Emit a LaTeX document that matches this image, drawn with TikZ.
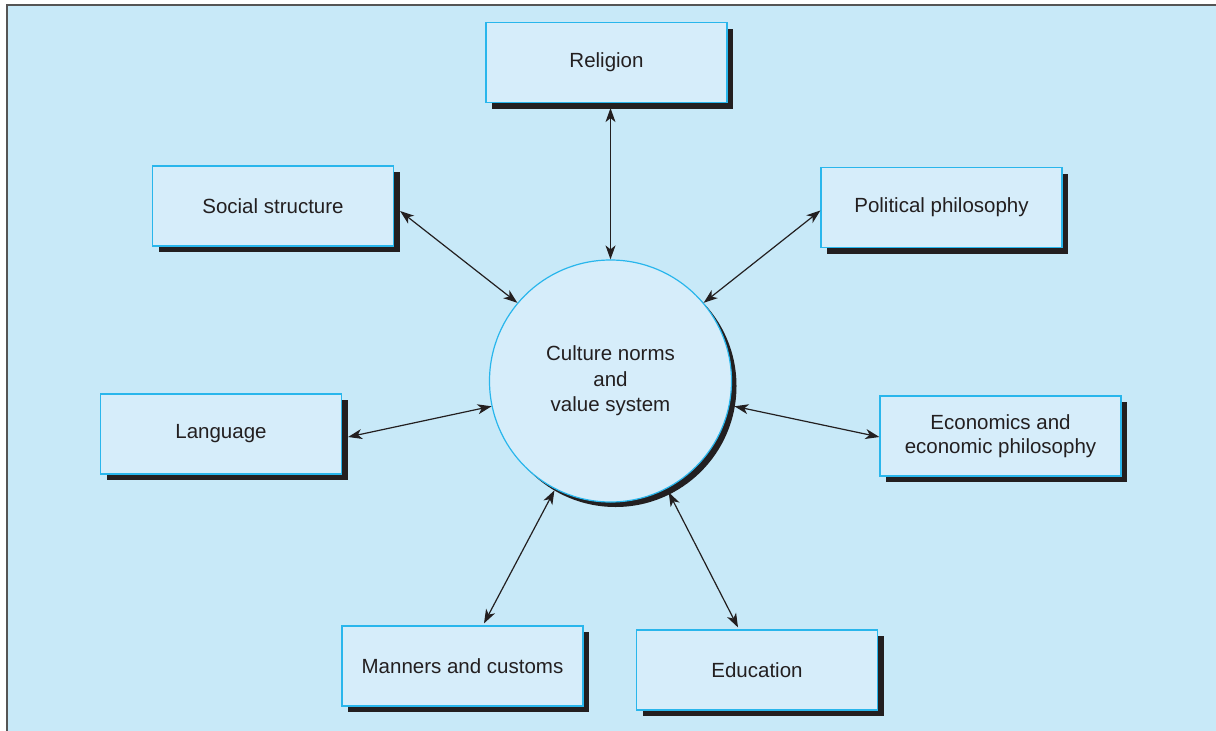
\documentclass[tikz,border=0pt]{standalone}
\usepackage{fontspec}
\setmainfont{Liberation Sans}
\usepackage{tikz}
\usetikzlibrary{arrows.meta,shadows}
\definecolor{cultbg}{RGB}{200,233,248}
\definecolor{cultfill}{RGB}{214,237,250}
\definecolor{cultline}{RGB}{41,182,236}
\definecolor{cultdark}{RGB}{35,31,32}
\definecolor{cultframe}{RGB}{85,85,85}

\tikzset{
  topic/.style={rectangle, draw=cultline, fill=cultfill, line width=1.2pt,
    minimum width=241pt, minimum height=80pt, align=center, text=cultdark,
    font=\fontsize{20.5}{24.5}\selectfont,
    drop shadow={shadow xshift=6pt, shadow yshift=-6pt, fill=cultdark, opacity=1}},
  core/.style={circle, draw=cultline, fill=cultfill, line width=1.2pt,
    minimum size=242pt, inner sep=0pt, align=center, text=cultdark,
    font=\fontsize{20.5}{25.5}\selectfont,
    drop shadow={shadow xshift=5pt, shadow yshift=-5pt, fill=cultdark, opacity=1}},
  link/.style={cultdark, line width=1.2pt,
    {Stealth[length=14pt,width=10pt,inset=4pt]}-{Stealth[length=14pt,width=10pt,inset=4pt]}}
}

\begin{document}
\begin{tikzpicture}[x=1pt, y=-1pt]
  % Frame
  \useasboundingbox (0,0) rectangle (1216,731);
  \fill[white] (0,0) rectangle (1216,731);
  \fill[cultbg] (7,5) rectangle (1216,731);
  \draw[cultframe, line width=2pt] (7,731) -- (7,5) -- (1216,5);

  % Centre
  \node[core] (norms) at (610.5,381) {Culture norms\\and\\value system};

  % Surrounding boxes
  \node[topic] (religion)  at (606.5,62.5) {Religion};
  \node[topic] (social)    at (273,206)    {Social structure};
  \node[topic] (political) at (941.5,207.5) {Political philosophy};
  \node[topic] (language)  at (221,434)    {Language};
  \node[topic] (economics) at (1000.5,436) {Economics and\\economic philosophy};
  \node[topic] (manners)   at (462.5,666)  {Manners and customs};
  \node[topic] (education) at (757,670)    {Education};

  % Links
  \draw[link] ([yshift=-5pt]religion.south -| norms.north) -- (norms.north);
  \draw[link] ([xshift=6pt,yshift=-5pt]social.east) -- (norms.140);
  \draw[link] ([yshift=-3pt]political.west) -- (norms.40);
  \draw[link] ([xshift=6pt,yshift=-3pt]language.east) -- (norms.192);
  \draw[link] ([yshift=-1pt]economics.west) -- ([xshift=5pt]norms.348);
  \draw[link] ([xshift=21.5pt,yshift=2pt]manners.north) -- ([xshift=1pt,yshift=-2pt]norms.242);
  \draw[link] ([xshift=-19pt,yshift=2pt]education.north) -- ([xshift=3pt,yshift=-3pt]norms.297);
\end{tikzpicture}
\end{document}
